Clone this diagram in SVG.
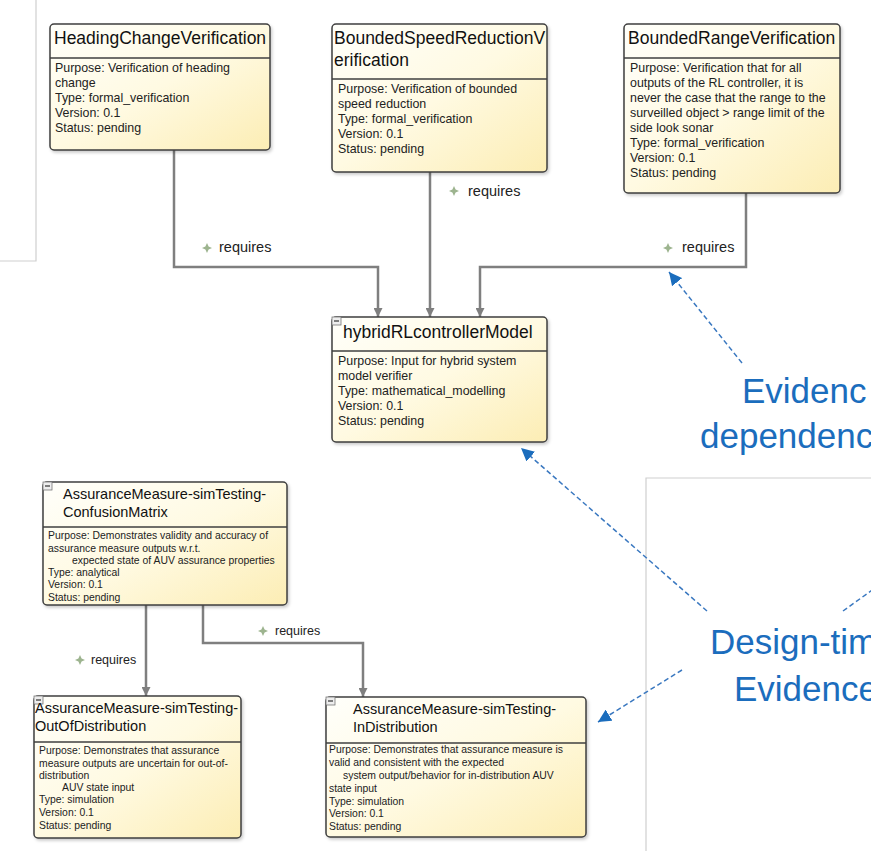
<svg xmlns="http://www.w3.org/2000/svg" width="871" height="851" viewBox="0 0 871 851">
<defs>
<linearGradient id="g" x1="0" y1="0" x2="1" y2="1">
<stop offset="0" stop-color="#fffffb"/>
<stop offset="0.5" stop-color="#fffae2"/>
<stop offset="1" stop-color="#fcedb4"/>
</linearGradient>
<filter id="sh" x="-5%" y="-5%" width="115%" height="115%">
<feDropShadow dx="1.5" dy="2" stdDeviation="1.5" flood-color="#000" flood-opacity="0.2"/>
</filter>
<marker id="ga" viewBox="0 0 10 10" refX="10" refY="5" markerWidth="9" markerHeight="9" markerUnits="userSpaceOnUse" orient="auto">
<path d="M0,0 L10,5 L0,10 z" fill="#7f7f7f"/>
</marker>
<marker id="ba" viewBox="0 0 10 10" refX="10" refY="5" markerWidth="13" markerHeight="13" markerUnits="userSpaceOnUse" orient="auto">
<path d="M0,0 L10,5 L0,10 z" fill="#1b6dbd"/>
</marker>
<g id="dia"><path d="M0,-5 L1.6,-1.6 L5,0 L1.6,1.6 L0,5 L-1.6,1.6 L-5,0 L-1.6,-1.6 z" fill="#9db48f"/></g>
<g id="mini"><rect x="0" y="0" width="9" height="8" fill="#eeeeee" stroke="#777" stroke-width="0.8"/><line x1="2" y1="4" x2="7" y2="4" stroke="#333" stroke-width="1.2"/></g>
</defs>
<style>
.box{fill:url(#g);stroke:#3f3f3f;stroke-width:1.5;filter:url(#sh)}
.sep{stroke:#3f3f3f;stroke-width:1.3}
.t{font-family:"Liberation Sans",Arial,sans-serif;font-size:17.5px;fill:#111}
.ts{font-family:"Liberation Sans",Arial,sans-serif;font-size:14.5px;fill:#111}
.b{font-family:"Liberation Sans",Arial,sans-serif;font-size:12.4px;fill:#222}
.bs{font-family:"Liberation Sans",Arial,sans-serif;font-size:10.4px;fill:#222}
.rq{font-family:"Liberation Sans",Arial,sans-serif;font-size:14.5px;fill:#222}
.rqs{font-family:"Liberation Sans",Arial,sans-serif;font-size:12.5px;fill:#222}
.con{fill:none;stroke:#7f7f7f;stroke-width:2.5}
.dash{fill:none;stroke:#3a78c0;stroke-width:1.5;stroke-dasharray:5 3}
.big{font-family:"Liberation Sans",Arial,sans-serif;font-size:35px;fill:#1b6dbd}
.frame{fill:none;stroke:#cfcfcf;stroke-width:1.2}
</style>
<rect x="0" y="0" width="871" height="851" fill="#ffffff"/>
<g id="frames">
<path class="frame" d="M36,0 V261 H0"/>
<path class="frame" d="M646,851 V478 H871"/>
</g>
<g id="connectors">
<path class="con" d="M174,150 V267 H378 V317" marker-end="url(#ga)"/>
<path class="con" d="M430,172 V317" marker-end="url(#ga)"/>
<path class="con" d="M746,193 V267 H480 V317" marker-end="url(#ga)"/>
<path class="con" d="M146,605 V696" marker-end="url(#ga)"/>
<path class="con" d="M203,605 V643 H363 V697" marker-end="url(#ga)"/>
<use href="#dia" x="207" y="248"/><text class="rq" x="219" y="252">requires</text>
<use href="#dia" x="454" y="191"/><text class="rq" x="468" y="196">requires</text>
<use href="#dia" x="668" y="248"/><text class="rq" x="682" y="252">requires</text>
<use href="#dia" x="80" y="660"/><text class="rqs" x="91" y="664">requires</text>
<use href="#dia" x="263" y="631"/><text class="rqs" x="275" y="635">requires</text>
<path class="dash" d="M742,363 L669,272" marker-end="url(#ba)"/>
<path class="dash" d="M707,611 L521,448" marker-end="url(#ba)"/>
<path class="dash" d="M682,670 L598,722" marker-end="url(#ba)"/>
<path class="dash" d="M843,611 L875,588"/>
</g>
<g id="n-heading">
<rect class="box" x="50" y="24" width="220" height="126" rx="4"/>
<line class="sep" x1="50" y1="58" x2="270" y2="58"/>
<text class="t" x="54" y="44">HeadingChangeVerification</text>
<text class="b" x="55" y="71.5">Purpose: Verification of heading</text>
<text class="b" x="55" y="86.5">change</text>
<text class="b" x="55" y="101.5">Type: formal_verification</text>
<text class="b" x="55" y="116.5">Version: 0.1</text>
<text class="b" x="55" y="131.5">Status: pending</text>
</g>
<g id="n-speed">
<rect class="box" x="332" y="24" width="215" height="148" rx="4"/>
<line class="sep" x1="332" y1="79" x2="547" y2="79"/>
<text class="t" x="334" y="44">BoundedSpeedReductionV</text>
<text class="t" x="334" y="66">erification</text>
<text class="b" x="338" y="92.5">Purpose: Verification of bounded</text>
<text class="b" x="338" y="107.5">speed reduction</text>
<text class="b" x="338" y="122.5">Type: formal_verification</text>
<text class="b" x="338" y="137.5">Version: 0.1</text>
<text class="b" x="338" y="152.5">Status: pending</text>
</g>
<g id="n-range">
<rect class="box" x="624" y="24" width="216" height="169" rx="4"/>
<line class="sep" x1="624" y1="58" x2="840" y2="58"/>
<text class="t" x="628" y="44">BoundedRangeVerification</text>
<text class="b" x="630" y="71.5">Purpose: Verification that for all</text>
<text class="b" x="630" y="86.5">outputs of the RL controller, it is</text>
<text class="b" x="630" y="101.5">never the case that the range to the</text>
<text class="b" x="630" y="116.5">surveilled object &gt; range limit of the</text>
<text class="b" x="630" y="131.5">side look sonar</text>
<text class="b" x="630" y="146.5">Type: formal_verification</text>
<text class="b" x="630" y="161.5">Version: 0.1</text>
<text class="b" x="630" y="176.5">Status: pending</text>
</g>
<g id="n-hybrid">
<rect class="box" x="332" y="317" width="215" height="125" rx="4"/>
<line class="sep" x1="332" y1="351" x2="547" y2="351"/>
<use href="#mini" x="332" y="317"/>
<text class="t" x="343" y="338">hybridRLcontrollerModel</text>
<text class="b" x="338" y="364.5">Purpose: Input for hybrid system</text>
<text class="b" x="338" y="379.5">model verifier</text>
<text class="b" x="338" y="394.5">Type: mathematical_modelling</text>
<text class="b" x="338" y="409.5">Version: 0.1</text>
<text class="b" x="338" y="424.5">Status: pending</text>
</g>
<g id="n-confusion">
<rect class="box" x="43" y="482" width="244" height="123" rx="4"/>
<line class="sep" x1="43" y1="527" x2="287" y2="527"/>
<use href="#mini" x="43" y="482"/>
<text class="ts" x="63" y="499">AssuranceMeasure-simTesting-</text>
<text class="ts" x="63" y="517">ConfusionMatrix</text>
<text class="bs" x="48" y="539">Purpose: Demonstrates validity and accuracy of</text>
<text class="bs" x="48" y="551.5">assurance measure outputs w.r.t.</text>
<text class="bs" x="72" y="564">expected state of AUV assurance properties</text>
<text class="bs" x="48" y="576">Type: analytical</text>
<text class="bs" x="48" y="588">Version: 0.1</text>
<text class="bs" x="48" y="601">Status: pending</text>
</g>
<g id="n-ood">
<rect class="box" x="34" y="696" width="207" height="142" rx="4"/>
<line class="sep" x1="34" y1="742" x2="241" y2="742"/>
<use href="#mini" x="34" y="696"/>
<text class="ts" x="35" y="713">AssuranceMeasure-simTesting-</text>
<text class="ts" x="35" y="731">OutOfDistribution</text>
<text class="bs" x="39" y="754">Purpose: Demonstrates that assurance</text>
<text class="bs" x="39" y="766.5">measure outputs are uncertain for out-of-</text>
<text class="bs" x="39" y="778.5">distribution</text>
<text class="bs" x="62" y="791">AUV state input</text>
<text class="bs" x="39" y="803">Type: simulation</text>
<text class="bs" x="39" y="816">Version: 0.1</text>
<text class="bs" x="39" y="829">Status: pending</text>
</g>
<g id="n-ind">
<rect class="box" x="326" y="697" width="260" height="140" rx="4"/>
<line class="sep" x1="326" y1="743" x2="586" y2="743"/>
<use href="#mini" x="326" y="697"/>
<text class="ts" x="353" y="714">AssuranceMeasure-simTesting-</text>
<text class="ts" x="353" y="732">InDistribution</text>
<text class="bs" x="329" y="753">Purpose: Demonstrates that assurance measure is</text>
<text class="bs" x="329" y="766">valid and consistent with the expected</text>
<text class="bs" x="343" y="779">system output/behavior for in-distribution AUV</text>
<text class="bs" x="329" y="792">state input</text>
<text class="bs" x="329" y="805">Type: simulation</text>
<text class="bs" x="329" y="817">Version: 0.1</text>
<text class="bs" x="329" y="830">Status: pending</text>
</g>
<g id="labels">
<text class="big" x="742" y="403">Evidenc</text>
<text class="big" x="700" y="448">dependenc</text>
<text class="big" x="710" y="654">Design-tim</text>
<text class="big" x="734" y="701">Evidence</text>
</g>
</svg>
